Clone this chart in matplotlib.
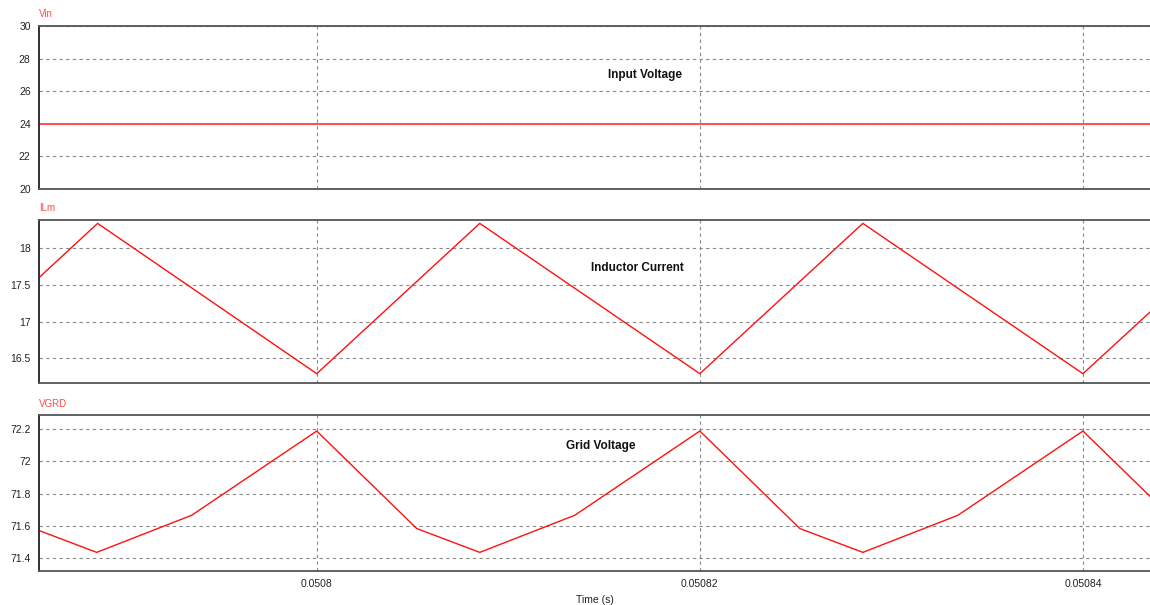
import matplotlib.pyplot as plt
import numpy as np

# waveform corner points
t_vin = [0.0507855, 0.0508435]
vin = [24.0, 24.0]

t_ilm = [0.0507855, 0.05078856, 0.05080, 0.05080851, 0.05082, 0.05082851, 0.05084, 0.0508435]
ilm = [17.60, 18.34, 16.29, 18.34, 16.29, 18.34, 16.29, 17.13]

t_vgrd = [0.0507855, 0.05078851, 0.05079347, 0.05080, 0.05080522, 0.05080851,
          0.05081347, 0.05082, 0.05082522, 0.05082851, 0.05083347, 0.05084, 0.0508435]
vgrd = [71.572, 71.437, 71.666, 72.186, 71.584, 71.437,
        71.666, 72.186, 71.584, 71.437, 71.666, 72.186, 71.783]

xticks = [0.0508, 0.05082, 0.05084]
xtick_labels = ['0.0508', '0.05082', '0.05084']

plt.rcParams['font.family'] = ['Liberation Sans', 'DejaVu Sans']

fig = plt.figure(figsize=(11.5, 6.05), dpi=100)
W, H = 1150, 605

def panel(top, bottom):
    return fig.add_axes([39 / W, 1 - bottom / H, 1 - 39 / W, (bottom - top) / H])

ax1 = panel(26, 189)
ax2 = panel(220, 383)
ax3 = panel(415, 571)

panels = [
    (ax1, t_vin, vin, 'Vin', (20, 30), [20, 22, 24, 26, 28, 30], ['20', '22', '24', '26', '28', '30'],
     'Input Voltage', (645, 75), 1.4, '#ff5050'),
    (ax2, t_ilm, ilm, 'ILm', (16.163, 18.386), [16.5, 17, 17.5, 18], ['16.5', '17', '17.5', '18'],
     'Inductor Current', (637, 268), 1.0, '#ff1010'),
    (ax3, t_vgrd, vgrd, 'VGRD', (71.322, 72.285), [71.4, 71.6, 71.8, 72, 72.2],
     ['71.4', '71.6', '71.8', '72', '72.2'],
     'Grid Voltage', (601, 446), 1.0, '#ff1010'),
]

for ax, t, y, name, ylim, yt, ytl, label, pos, lw, col in panels:
    ax.plot(t, y, color=col, lw=lw)
    ax.set_xlim(0.0507855, 0.0508435)
    ax.set_ylim(*ylim)
    ax.set_yticks(yt)
    ax.set_yticklabels(ytl)
    ax.set_xticks(xticks)
    ax.grid(True, linestyle=(0, (3, 3)), color='#888888', lw=0.8)
    ax.tick_params(length=0, labelsize=7.5, colors='#222222', pad=6)
    ax.spines['right'].set_visible(False)
    for s in ['top', 'bottom']:
        ax.spines[s].set_color('#555555')
        ax.spines[s].set_linewidth(1.3)
    ax.spines['left'].set_color('#222222')
    ax.spines['left'].set_linewidth(1.3)
    ax.text(0.0, 1.04, name, transform=ax.transAxes, color='#ff4a4a', fontsize=7,
            ha='left', va='bottom')
    fig.text(pos[0] / W, 1 - pos[1] / H, label, fontsize=8.5, fontweight='bold',
             family=['Liberation Sans Narrow', 'Liberation Sans', 'DejaVu Sans'],
             ha='center', va='center', color='#111111')

ax1.set_xticklabels([])
ax2.set_xticklabels([])
ax3.set_xticklabels(xtick_labels)
ax3.set_xlabel('Time (s)', fontsize=7.5, labelpad=4, color='#222222')

fig.savefig('out.png', dpi=100)
